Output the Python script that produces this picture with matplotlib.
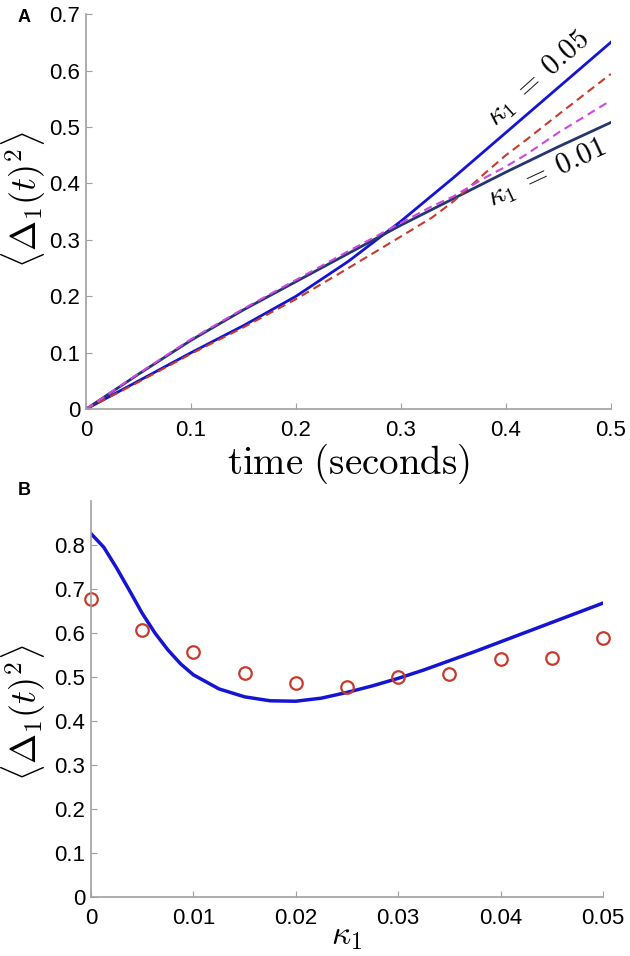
import numpy as np
import matplotlib
matplotlib.use("Agg")
from matplotlib import pyplot as plt

plt.rcParams["font.family"] = ["Liberation Sans", "DejaVu Sans"]
plt.rcParams["mathtext.fontset"] = "cm"

# panel A: mean squared deviation over time
t_grid = [0.0, 0.05, 0.1, 0.15, 0.2, 0.25, 0.3, 0.35, 0.4, 0.45, 0.5]
theory_k005 = [0.0, 0.05, 0.1, 0.148, 0.2, 0.262, 0.333, 0.41, 0.49, 0.57, 0.65]
theory_k001 = [0.0, 0.062, 0.122, 0.176, 0.226, 0.276, 0.326, 0.373, 0.42, 0.465, 0.508]

t_sim = [0.0, 0.05, 0.1, 0.15, 0.2, 0.25, 0.3, 0.33, 0.35, 0.38, 0.4, 0.42, 0.45, 0.5]
sim_k005 = [0.0, 0.048, 0.098, 0.145, 0.195, 0.25, 0.306, 0.34, 0.368, 0.418, 0.45, 0.478, 0.522, 0.594]
sim_k001 = [0.0, 0.063, 0.124, 0.178, 0.229, 0.28, 0.33, 0.36, 0.377, 0.41, 0.43, 0.452, 0.49, 0.547]

# panel B: value at end vs kappa_1
kappa_line = [0.0, 0.00125, 0.0025, 0.00375, 0.005, 0.00625, 0.0075, 0.00875, 0.01, 0.0125,
              0.015, 0.0175, 0.02, 0.0225, 0.025, 0.0275, 0.03, 0.0325, 0.035, 0.0375,
              0.04, 0.0425, 0.045, 0.0475, 0.05]
theory_end = [0.826, 0.795, 0.748, 0.697, 0.645, 0.6, 0.562, 0.53, 0.505, 0.473,
              0.455, 0.446, 0.445, 0.452, 0.465, 0.48, 0.497, 0.516, 0.537, 0.558,
              0.58, 0.602, 0.624, 0.646, 0.668]
kappa_sim = [0.0, 0.005, 0.01, 0.015, 0.02, 0.025, 0.03, 0.035, 0.04, 0.045, 0.05]
sim_end = [0.677, 0.607, 0.558, 0.509, 0.486, 0.478, 0.5, 0.506, 0.54, 0.543, 0.589]

BLUE = "#1414d2"
NAVY = "#26366e"
RED = "#c83a2c"
MAGENTA = "#cc48e6"
GREY = "#a0a0a0"
YLABEL = r"$\langle\Delta_1(t)^2\rangle$"


def style(ax):
    for side in ("top", "right"):
        ax.spines[side].set_visible(False)
    for side in ("left", "bottom"):
        ax.spines[side].set_color(GREY)
        ax.spines[side].set_linewidth(1.2)
    ax.tick_params(direction="in", length=4, color=GREY, labelsize=16)
    ax.tick_params(axis="y", pad=4)
    ax.tick_params(axis="x", pad=8)


fig = plt.figure(figsize=(6.3, 9.56), dpi=100)

# ---- panel A
ax1 = fig.add_axes([0.1365, 0.572, 0.833, 0.4132])
style(ax1)
ax1.plot(t_grid, theory_k005, color=BLUE, lw=2.0)
ax1.plot(t_grid, theory_k001, color=NAVY, lw=2.0)
ax1.plot(t_sim, sim_k005, color=RED, lw=1.5, ls=(0, (4, 2.5)))
ax1.plot(t_sim, sim_k001, color=MAGENTA, lw=1.5, ls=(0, (4, 2.5)))
ax1.set_xlim(0, 0.5)
ax1.set_ylim(0, 0.7)
ax1.set_xticks([0, 0.1, 0.2, 0.3, 0.4, 0.5])
ax1.set_xticklabels(["0", "0.1", "0.2", "0.3", "0.4", "0.5"])
ax1.set_yticks([0, 0.1, 0.2, 0.3, 0.4, 0.5, 0.6, 0.7])
ax1.set_yticklabels(["0", "0.1", "0.2", "0.3", "0.4", "0.5", "0.6", "0.7"])
ax1.set_xlabel(r"$\mathrm{time\ (seconds)}$", fontsize=28, labelpad=0)
ax1.set_ylabel(YLABEL, fontsize=26)
ax1.yaxis.set_label_coords(-0.072, 0.53)
ax1.text(0.4305, 0.586, r"$\kappa_1\;=\;0.05$", fontsize=21, rotation=42,
         ha="center", va="center", rotation_mode="anchor")
ax1.text(0.439, 0.418, r"$\kappa_1\;=\;0.01$", fontsize=21, rotation=25,
         ha="center", va="center", rotation_mode="anchor")
fig.text(18 / 630, 1 - 17 / 956, "A", fontsize=13, fontweight="bold", va="center")

# ---- panel B
ax2 = fig.add_axes([0.1444, 0.0617, 0.8127, 0.4142])
style(ax2)
ax2.plot(kappa_line, theory_end, color=BLUE, lw=2.5)
ax2.plot(kappa_sim, sim_end, "o", mfc="none", mec=RED, mew=1.6, ms=9, clip_on=False)
ax2.set_xlim(0, 0.05)
ax2.set_ylim(0, 0.9)
ax2.set_xticks([0, 0.01, 0.02, 0.03, 0.04, 0.05])
ax2.set_xticklabels(["0", "0.01", "0.02", "0.03", "0.04", "0.05"])
ax2.set_yticks([0, 0.1, 0.2, 0.3, 0.4, 0.5, 0.6, 0.7, 0.8])
ax2.set_yticklabels(["0", "0.1", "0.2", "0.3", "0.4", "0.5", "0.6", "0.7", "0.8"])
ax2.set_xlabel(r"$\kappa_1$", fontsize=24, labelpad=-6)
ax2.set_ylabel(YLABEL, fontsize=26)
ax2.yaxis.set_label_coords(-0.084, 0.465)
fig.text(18 / 630, 1 - 491 / 956, "B", fontsize=13, fontweight="bold", va="center")

fig.savefig("out.png", dpi=100)
